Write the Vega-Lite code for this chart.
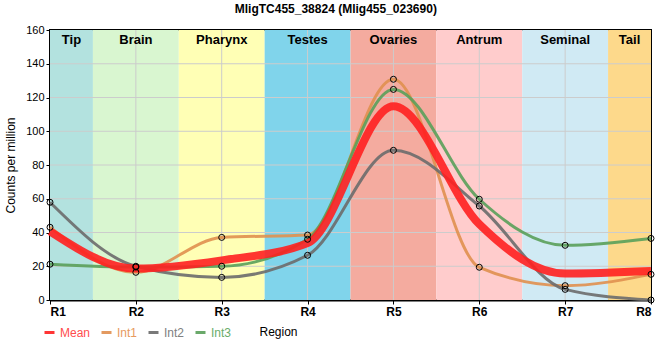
{
  "$schema": "https://vega.github.io/schema/vega-lite/v6.json",
  "autosize": {"type": "none"},
  "width": 601,
  "height": 270,
  "padding": {"left": 50, "top": 30, "right": 9, "bottom": 60},
  "background": "white",
  "config": {
    "font": "Liberation Sans",
    "view": {"stroke": "#000", "strokeWidth": 2},
    "axisY": {"labelOverlap": false, "labelFontSize": 11, "labelColor": "#000", "grid": false, "tickCount": 8},
    "axisX": {"labelOverlap": false, "grid": false}
  },
  "title": {
    "text": "MligTC455_38824 (Mlig455_023690)",
    "fontSize": 12,
    "fontWeight": "bold",
    "anchor": "middle",
    "frame": "bounds",
    "offset": 8,
    "color": "#000"
  },
  "datasets": {
    "bands": [
      {"band": "Tip", "start": 1, "end": 1.5, "mid": 1.25},
      {"band": "Brain", "start": 1.5, "end": 2.5, "mid": 2},
      {"band": "Pharynx", "start": 2.5, "end": 3.5, "mid": 3},
      {"band": "Testes", "start": 3.5, "end": 4.5, "mid": 4},
      {"band": "Ovaries", "start": 4.5, "end": 5.5, "mid": 5},
      {"band": "Antrum", "start": 5.5, "end": 6.5, "mid": 6},
      {"band": "Seminal", "start": 6.5, "end": 7.5, "mid": 7},
      {"band": "Tail", "start": 7.5, "end": 8, "mid": 7.75}
    ],
    "series": [
      {"r": 1, "series": "Mean", "v": 40.7},
      {"r": 2, "series": "Mean", "v": 18.6},
      {"r": 3, "series": "Mean", "v": 23.5},
      {"r": 4, "series": "Mean", "v": 33.7},
      {"r": 5, "series": "Mean", "v": 114.8},
      {"r": 6, "series": "Mean", "v": 44.9},
      {"r": 7, "series": "Mean", "v": 15.7},
      {"r": 8, "series": "Mean", "v": 17.2},
      {"r": 1, "series": "Int1", "v": 43.1},
      {"r": 2, "series": "Int1", "v": 16.4},
      {"r": 3, "series": "Int1", "v": 37.1},
      {"r": 4, "series": "Int1", "v": 38.5},
      {"r": 5, "series": "Int1", "v": 130.8},
      {"r": 6, "series": "Int1", "v": 19.4},
      {"r": 7, "series": "Int1", "v": 8.5},
      {"r": 8, "series": "Int1", "v": 15.2},
      {"r": 1, "series": "Int2", "v": 57.9},
      {"r": 2, "series": "Int2", "v": 20},
      {"r": 3, "series": "Int2", "v": 13.4},
      {"r": 4, "series": "Int2", "v": 26.5},
      {"r": 5, "series": "Int2", "v": 88.7},
      {"r": 6, "series": "Int2", "v": 55.7},
      {"r": 7, "series": "Int2", "v": 6.3},
      {"r": 8, "series": "Int2", "v": 0},
      {"r": 1, "series": "Int3", "v": 21.2},
      {"r": 2, "series": "Int3", "v": 19.5},
      {"r": 3, "series": "Int3", "v": 20},
      {"r": 4, "series": "Int3", "v": 36},
      {"r": 5, "series": "Int3", "v": 124.8},
      {"r": 6, "series": "Int3", "v": 59.7},
      {"r": 7, "series": "Int3", "v": 32.4},
      {"r": 8, "series": "Int3", "v": 36.5}
    ]
  },
  "layer": [
    {
      "data": {"name": "bands"},
      "mark": {"type": "rect"},
      "encoding": {
        "x": {"field": "start", "type": "quantitative", "scale": {"domain": [1, 8], "nice": false, "zero": false},
          "axis": {
            "values": [1, 2, 3, 4, 5, 6, 7, 8],
            "labelExpr": "'R' + datum.value",
            "labelFontWeight": "bold",
            "labelFontSize": 12,
            "labelColor": "#000",
            "labelPadding": 2,
            "tickSize": 4,
            "tickColor": "#000",
            "domainColor": "#000",
            "domainWidth": 2,
            "title": "Region",
            "titleFontWeight": "normal",
            "titleFontSize": 12,
            "titleColor": "#000",
            "titleX": 228,
            "titleY": 31,
            "titleAlign": "center",
            "titleBaseline": "middle"
          }},
        "x2": {"field": "end"},
        "y": {"datum": 0, "type": "quantitative", "scale": {"domain": [0, 160], "nice": false},
          "axis": {
            "tickCount": 8,
            "labelOverlap": false,
            "tickSize": 4,
            "tickColor": "#000",
            "domainColor": "#000",
            "domainWidth": 2,
            "title": "Counts per million",
            "titleFontWeight": "normal",
            "titleFontSize": 12,
            "titleColor": "#000",
            "titlePadding": 8
          }},
        "y2": {"datum": 160},
        "fill": {"field": "band", "type": "nominal", "legend": null,
          "scale": {
            "domain": ["Tip", "Brain", "Pharynx", "Testes", "Ovaries", "Antrum", "Seminal", "Tail"],
            "range": ["#b3e2df", "#d9f6d0", "#ffffb5", "#80d4eb", "#f4ab9f", "#ffcccc", "#d0eaf4", "#fdd98b"]
          }}
      }
    },
    {
      "data": {"values": [{"g": 20}, {"g": 40}, {"g": 60}, {"g": 80}, {"g": 100}, {"g": 120}, {"g": 140}]},
      "mark": {"type": "rule", "color": "#cccccc", "strokeWidth": 1},
      "encoding": {"y": {"field": "g", "type": "quantitative"}}
    },
    {
      "data": {"values": [{"g": 2}, {"g": 3}, {"g": 4}, {"g": 5}, {"g": 6}, {"g": 7}]},
      "mark": {"type": "rule", "color": "#cccccc", "strokeWidth": 1},
      "encoding": {"x": {"field": "g", "type": "quantitative"}}
    },
    {
      "data": {"name": "bands"},
      "mark": {"type": "text", "fontWeight": "bold", "fontSize": 13, "baseline": "middle", "dy": 10, "color": "#000"},
      "encoding": {
        "x": {"field": "mid", "type": "quantitative"},
        "y": {"datum": 160, "type": "quantitative"},
        "text": {"field": "band"}
      }
    },
    {
      "data": {"name": "series"},
      "transform": [{"filter": "datum.series != 'Mean'"}],
      "mark": {"type": "line", "interpolate": "monotone", "opacity": 0.9, "strokeWidth": 3},
      "encoding": {
        "x": {"field": "r", "type": "quantitative"},
        "y": {"field": "v", "type": "quantitative"},
        "stroke": {"field": "series", "type": "nominal",
          "scale": {"domain": ["Mean", "Int1", "Int2", "Int3"], "range": ["#ff2020", "#e0904f", "#6b6b6b", "#5aa05a"]},
          "legend": {
            "orient": "none", "direction": "horizontal", "legendX": -7, "legendY": 296,
            "title": null, "symbolType": "stroke", "symbolSize": 100, "labelFontSize": 12,
            "labelOffset": 4, "columnPadding": 4, "gridAlign": "none",
            "symbolStrokeWidth": 3,
            "labelColor": {"expr": "datum.value == 'Mean' ? '#ff4d4d' : datum.value == 'Int1' ? '#e79a5e' : datum.value == 'Int2' ? '#808080' : '#6aac6a'"},
            "encode": {
              "symbols": {"strokeWidth": {"condition": {"test": "datum.value == 'Mean'", "value": 7}, "value": 3}, "strokeCap": {"value": "butt"}}
            }
          }}
      }
    },
    {
      "data": {"name": "series"},
      "transform": [{"filter": "datum.series == 'Mean'"}],
      "mark": {"type": "line", "interpolate": "monotone", "opacity": 0.9, "strokeWidth": 8},
      "encoding": {
        "x": {"field": "r", "type": "quantitative"},
        "y": {"field": "v", "type": "quantitative"},
        "stroke": {"field": "series", "type": "nominal"}
      }
    },
    {
      "data": {"name": "series"},
      "transform": [{"filter": "datum.series != 'Mean'"}],
      "mark": {"type": "point", "shape": "circle", "filled": false, "stroke": "#000", "strokeWidth": 1, "size": 36, "opacity": 1},
      "encoding": {
        "x": {"field": "r", "type": "quantitative"},
        "y": {"field": "v", "type": "quantitative"}
      }
    }
  ]
}
